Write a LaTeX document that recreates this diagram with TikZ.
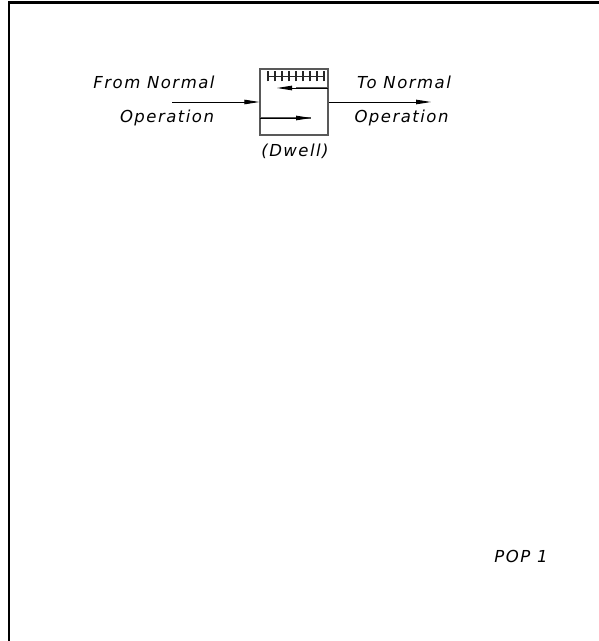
\documentclass[tikz,border=0pt]{standalone}
\usepackage{fontspec}
\setmainfont{DejaVu Sans}
\newfontfamily\lblfont[LetterSpace=9]{DejaVu Sans}
\usetikzlibrary{arrows.meta}
\begin{document}
\begin{tikzpicture}[x=1pt,y=1pt,
  lbl/.style={font=\lblfont\itshape\fontsize{16.5}{19}\selectfont, inner sep=0pt, anchor=base},
  flow/.style={line width=0.9pt, -{Triangle[length=15pt,width=4.5pt]}},
  boxline/.style={line width=1.2pt, draw=black!65},
  tick/.style={line width=1.1pt, draw=black!85},
  frameline/.style={line width=2.6pt}]
\useasboundingbox (0,0) rectangle (599,641);
% frame
\draw[frameline] (9,0) -- (9,638.5) -- (599,638.5);
% box
\node[boxline, draw, minimum width=68pt, minimum height=66pt, inner sep=0pt] (dwell) at (294,539) {};
% hatch bar
\draw[tick] (268,564.5) -- (324,564.5);
\foreach \i in {0,...,8} { \draw[tick] (268+7*\i,559.5) -- (268+7*\i,569.5); }
% internal flows
\coordinate (rl1) at (328,553);
\coordinate (rl2) at (277,553);
\draw[boxline] (rl1) -- (296,553);
\draw[flow] (rl1) -- (rl2);
\coordinate (lr1) at (260,523);
\coordinate (lr2) at (311,523);
\draw[boxline] (lr1) -- (lr2);
\draw[flow] (lr1) -- (lr2);
% in / out
\coordinate (inS) at (172,539);
\coordinate (outE) at (431,539);
\draw[flow] (inS) -- (dwell.west);
\draw[flow] (dwell.east) -- (outE);
% labels
\node[lbl] (t1) at (154,552) {From Normal};
\node[lbl] (t2) at (167,518) {Operation};
\node[lbl] (t3) at (404,552) {To Normal};
\node[lbl] (t4) at (401.5,518) {Operation};
\node[lbl] (t5) at (295,484) {(Dwell)};
\node[lbl] (t6) at (521,78) {POP 1};
\end{tikzpicture}
\end{document}
